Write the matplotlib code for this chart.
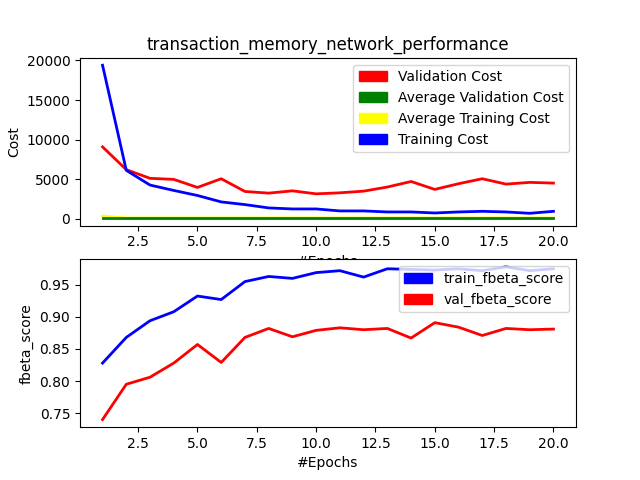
import matplotlib
matplotlib.use("Agg")
import matplotlib.pyplot as plt
import matplotlib.patches as mpatches

epochs = list(range(1, 21))
val_cost = [9080, 6200, 5100, 4970, 3950, 5050, 3440, 3230, 3520, 3140,
            3270, 3480, 4000, 4700, 3700, 4420, 5050, 4370, 4590, 4500]
train_cost = [19400, 6110, 4250, 3570, 2930, 2120, 1780, 1360, 1230, 1230,
              980, 980, 850, 850, 720, 850, 930, 850, 680, 930]
avg_val_cost = [90] * 20
avg_train_cost = [320, 90, 90, 90, 90, 90, 90, 90, 90, 90,
                  90, 90, 90, 90, 90, 90, 90, 90, 90, 90]
train_fbeta = [0.828, 0.868, 0.894, 0.908, 0.9325, 0.927, 0.955, 0.963, 0.960, 0.969,
               0.972, 0.962, 0.975, 0.974, 0.973, 0.975, 0.972, 0.978, 0.972, 0.975]
val_fbeta = [0.740, 0.795, 0.806, 0.828, 0.857, 0.829, 0.868, 0.882, 0.869, 0.879,
             0.883, 0.880, 0.882, 0.867, 0.891, 0.884, 0.871, 0.882, 0.880, 0.881]

fig = plt.figure(figsize=(6.4, 4.8), dpi=100)

ax1 = fig.add_subplot(211)
ax1.plot(epochs, val_cost, color='red', lw=2)
ax1.plot(epochs, avg_train_cost, color='yellow', lw=2)
ax1.plot(epochs, avg_val_cost, color='green', lw=2)
ax1.plot(epochs, train_cost, color='blue', lw=2)
ax1.set_title('transaction_memory_network_performance')
ax1.set_ylabel('Cost')
ax1.set_xlabel('#Epochs')
ax1.legend(handles=[mpatches.Patch(color='red', label='Validation Cost'),
                    mpatches.Patch(color='green', label='Average Validation Cost'),
                    mpatches.Patch(color='yellow', label='Average Training Cost'),
                    mpatches.Patch(color='blue', label='Training Cost')],
           loc='upper right')

ax2 = fig.add_subplot(212)
ax2.plot(epochs, train_fbeta, color='blue', lw=2)
ax2.plot(epochs, val_fbeta, color='red', lw=2)
ax2.set_ylabel('fbeta_score')
ax2.set_xlabel('#Epochs')
ax2.legend(handles=[mpatches.Patch(color='blue', label='train_fbeta_score'),
                    mpatches.Patch(color='red', label='val_fbeta_score')],
           loc='upper right')

fig.savefig('out.png', dpi=100)
